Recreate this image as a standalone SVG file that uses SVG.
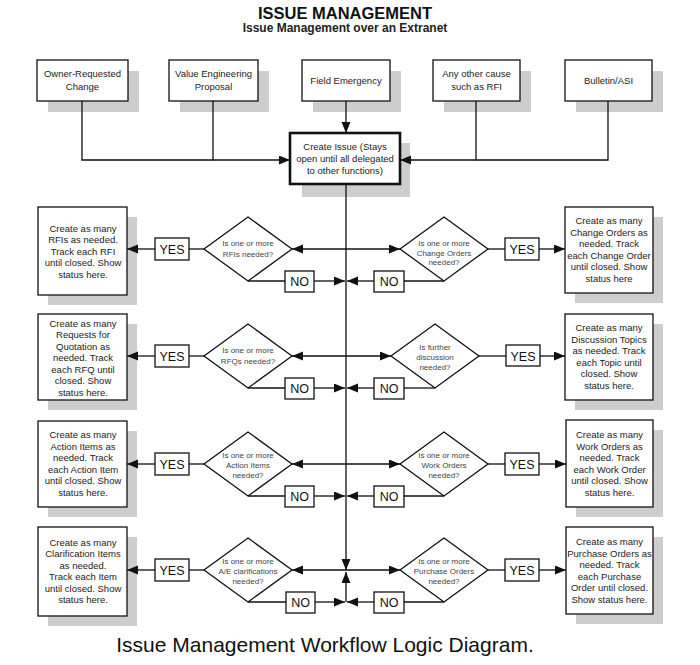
<svg xmlns="http://www.w3.org/2000/svg" width="700" height="665" viewBox="0 0 700 665">
<style>
.bx{fill:#fff;stroke:#111;stroke-width:1.3}
.sh{fill:#cdcdcd}
.ln{fill:none;stroke:#111;stroke-width:1.3}
.ar{fill:none;stroke:#111;stroke-width:1.3;marker-end:url(#ah)}
.t{font-family:"Liberation Sans",Arial,sans-serif;font-size:9.5px;fill:#222;text-anchor:middle}
.d{font-family:"Liberation Sans",Arial,sans-serif;font-size:8px;fill:#444;text-anchor:middle}
.yn{font-family:"Liberation Sans",Arial,sans-serif;font-size:12.5px;fill:#111;text-anchor:middle}
</style>
<defs>
<marker id="ah" markerUnits="userSpaceOnUse" markerWidth="12" markerHeight="10" refX="11" refY="4.5" orient="auto">
<path d="M0,0 L11,4.5 L0,9 z" fill="#111"/>
</marker>
</defs>
<rect width="700" height="665" fill="#fff"/>
<g id="title">
<text x="345" y="19" font-family="'Liberation Sans',Arial,sans-serif" font-size="16.5" font-weight="bold" text-anchor="middle" fill="#111">ISSUE MANAGEMENT</text>
<text x="345" y="32" font-family="'Liberation Sans',Arial,sans-serif" font-size="12" font-weight="bold" text-anchor="middle" fill="#222">Issue Management over an Extranet</text>
</g>

<!-- top boxes -->
<g id="owner">
<rect class="sh" x="48" y="71" width="91" height="41"/>
<rect class="bx" x="37" y="60" width="91" height="41"/>
<text class="t" x="82.5" y="77">Owner-Requested</text>
<text class="t" x="82.5" y="90">Change</text>
</g>
<g id="value">
<rect class="sh" x="180" y="71" width="89" height="41"/>
<rect class="bx" x="169" y="60" width="89" height="41"/>
<text class="t" x="213.5" y="77">Value Engineering</text>
<text class="t" x="213.5" y="90">Proposal</text>
</g>
<g id="field">
<rect class="sh" x="313" y="71" width="88" height="41"/>
<rect class="bx" x="302" y="60" width="88" height="41"/>
<text class="t" x="346" y="84">Field Emergency</text>
</g>
<g id="other">
<rect class="sh" x="444" y="71" width="87" height="41"/>
<rect class="bx" x="433" y="60" width="87" height="41"/>
<text class="t" x="476.5" y="77">Any other cause</text>
<text class="t" x="476.5" y="90">such as RFI</text>
</g>
<g id="bulletin">
<rect class="sh" x="576" y="71" width="87" height="41"/>
<rect class="bx" x="565" y="60" width="87" height="41"/>
<text class="t" x="608.5" y="84">Bulletin/ASI</text>
</g>

<g id="create">
<rect class="sh" x="302" y="143" width="108" height="54"/>
<rect x="290" y="133" width="110" height="51" fill="#fff" stroke="#111" stroke-width="2.6"/>
<text class="t" x="345" y="150">Create Issue (Stays</text>
<text class="t" x="345" y="162">open until all delegated</text>
<text class="t" x="345" y="174">to other functions)</text>
</g>

<!-- row 1 -->
<g id="rfi-box">
<rect class="sh" x="48" y="217" width="89" height="88"/>
<rect class="bx" x="38" y="207" width="89" height="88"/>
<text class="t" x="83" y="231.5">Create as many</text>
<text class="t" x="83" y="243">RFIs as needed.</text>
<text class="t" x="83" y="254.5">Track each RFI</text>
<text class="t" x="83" y="266">until closed. Show</text>
<text class="t" x="83" y="277.5">status here.</text>
</g>
<g id="rfi-q">
<path class="bx" d="M248,217 L292,249 L248,281 L204,249 z"/>
<text class="d" x="248" y="246">Is one or more</text>
<text class="d" x="248" y="257">RFIs needed?</text>
</g>
<g id="rfi-yes"><rect class="bx" x="155" y="238" width="34" height="22"/><text class="yn" x="172" y="254">YES</text></g>
<g id="rfi-no"><rect class="bx" x="285" y="271" width="29" height="21"/><text class="yn" x="299.5" y="286">NO</text></g>

<g id="co-box">
<rect class="sh" x="575" y="217" width="88" height="86"/>
<rect class="bx" x="565" y="207" width="88" height="86"/>
<text class="t" x="609" y="224">Create as many</text>
<text class="t" x="609" y="235.5">Change Orders as</text>
<text class="t" x="609" y="247">needed. Track</text>
<text class="t" x="609" y="258.5">each Change Order</text>
<text class="t" x="609" y="270">until closed. Show</text>
<text class="t" x="609" y="281.5">status here</text>
</g>
<g id="co-q">
<path class="bx" d="M444,217 L488,249 L444,281 L400,249 z"/>
<text class="d" x="444" y="246">Is one or more</text>
<text class="d" x="444" y="256">Change Orders</text>
<text class="d" x="444" y="265">needed?</text>
</g>
<g id="co-yes"><rect class="bx" x="505" y="238" width="34" height="22"/><text class="yn" x="522" y="254">YES</text></g>
<g id="co-no"><rect class="bx" x="374" y="271" width="30" height="21"/><text class="yn" x="389" y="286">NO</text></g>

<!-- row 2 -->
<g id="rfq-box">
<rect class="sh" x="48" y="324" width="89" height="86"/>
<rect class="bx" x="38" y="314" width="89" height="86"/>
<text class="t" x="83" y="326.5">Create as many</text>
<text class="t" x="83" y="338">Requests for</text>
<text class="t" x="83" y="349.5">Quotation as</text>
<text class="t" x="83" y="361">needed. Track</text>
<text class="t" x="83" y="372.5">each RFQ until</text>
<text class="t" x="83" y="384">closed. Show</text>
<text class="t" x="83" y="395.5">status here.</text>
</g>
<g id="rfq-q">
<path class="bx" d="M248,324 L292,356 L248,388 L204,356 z"/>
<text class="d" x="248" y="353">Is one or more</text>
<text class="d" x="248" y="364">RFQs needed?</text>
</g>
<g id="rfq-yes"><rect class="bx" x="155" y="345" width="34" height="22"/><text class="yn" x="172" y="361">YES</text></g>
<g id="rfq-no"><rect class="bx" x="285" y="378" width="29" height="21"/><text class="yn" x="299.5" y="393">NO</text></g>

<g id="disc-box">
<rect class="sh" x="575" y="324" width="88" height="86"/>
<rect class="bx" x="565" y="314" width="88" height="86"/>
<text class="t" x="609" y="331">Create as many</text>
<text class="t" x="609" y="342.5">Discussion Topics</text>
<text class="t" x="609" y="354">as needed. Track</text>
<text class="t" x="609" y="365.5">each Topic until</text>
<text class="t" x="609" y="377">closed. Show</text>
<text class="t" x="609" y="388.5">status here.</text>
</g>
<g id="disc-q">
<path class="bx" d="M435,324 L479,356 L435,388 L391,356 z"/>
<text class="d" x="435" y="350">Is further</text>
<text class="d" x="435" y="360">discussion</text>
<text class="d" x="435" y="370">needed?</text>
</g>
<g id="disc-yes"><rect class="bx" x="506" y="345" width="34" height="21"/><text class="yn" x="523" y="360.5">YES</text></g>
<g id="disc-no"><rect class="bx" x="374" y="378" width="30" height="21"/><text class="yn" x="389" y="393">NO</text></g>

<!-- row 3 -->
<g id="ai-box">
<rect class="sh" x="48" y="431" width="89" height="86"/>
<rect class="bx" x="38" y="421" width="89" height="86"/>
<text class="t" x="83" y="438">Create as many</text>
<text class="t" x="83" y="449.5">Action Items as</text>
<text class="t" x="83" y="461">needed. Track</text>
<text class="t" x="83" y="472.5">each Action Item</text>
<text class="t" x="83" y="484">until closed. Show</text>
<text class="t" x="83" y="495.5">status here.</text>
</g>
<g id="ai-q">
<path class="bx" d="M248,432 L292,464 L248,496 L204,464 z"/>
<text class="d" x="248" y="458">Is one or more</text>
<text class="d" x="248" y="468">Action Items</text>
<text class="d" x="248" y="478">needed?</text>
</g>
<g id="ai-yes"><rect class="bx" x="155" y="453" width="34" height="22"/><text class="yn" x="172" y="469">YES</text></g>
<g id="ai-no"><rect class="bx" x="285" y="486" width="29" height="21"/><text class="yn" x="299.5" y="501">NO</text></g>

<g id="wo-box">
<rect class="sh" x="576" y="430" width="87" height="87"/>
<rect class="bx" x="566" y="420" width="87" height="87"/>
<text class="t" x="609.5" y="438">Create as many</text>
<text class="t" x="609.5" y="449.5">Work Orders as</text>
<text class="t" x="609.5" y="461">needed. Track</text>
<text class="t" x="609.5" y="472.5">each Work Order</text>
<text class="t" x="609.5" y="484">until closed. Show</text>
<text class="t" x="609.5" y="495.5">status here.</text>
</g>
<g id="wo-q">
<path class="bx" d="M444,432 L488,464 L444,496 L400,464 z"/>
<text class="d" x="444" y="458">Is one or more</text>
<text class="d" x="444" y="468">Work Orders</text>
<text class="d" x="444" y="478">needed?</text>
</g>
<g id="wo-yes"><rect class="bx" x="505" y="453" width="34" height="22"/><text class="yn" x="522" y="469">YES</text></g>
<g id="wo-no"><rect class="bx" x="374" y="486" width="30" height="21"/><text class="yn" x="389" y="501">NO</text></g>

<!-- row 4 -->
<g id="ae-box">
<rect class="sh" x="48" y="537" width="89" height="89"/>
<rect class="bx" x="38" y="527" width="89" height="89"/>
<text class="t" x="83" y="545.5">Create as many</text>
<text class="t" x="83" y="557">Clarification  Items</text>
<text class="t" x="83" y="568.5">as needed.</text>
<text class="t" x="83" y="580">Track each Item</text>
<text class="t" x="83" y="591.5">until closed. Show</text>
<text class="t" x="83" y="603">status here.</text>
</g>
<g id="ae-q">
<path class="bx" d="M248,538 L292,570 L248,602 L204,570 z"/>
<text class="d" x="248" y="564">Is one or more</text>
<text class="d" x="248" y="574">A/E clarifications</text>
<text class="d" x="248" y="584">needed?</text>
</g>
<g id="ae-yes"><rect class="bx" x="155" y="559" width="34" height="22"/><text class="yn" x="172" y="575">YES</text></g>
<g id="ae-no"><rect class="bx" x="286" y="592" width="29" height="21"/><text class="yn" x="300.5" y="607">NO</text></g>

<g id="po-box">
<rect class="sh" x="576" y="537" width="87" height="87"/>
<rect class="bx" x="566" y="527" width="87" height="87"/>
<text class="t" x="609.5" y="545">Create as many</text>
<text class="t" x="609.5" y="556.5">Purchase Orders as</text>
<text class="t" x="609.5" y="568">needed. Track</text>
<text class="t" x="609.5" y="579.5">each Purchase</text>
<text class="t" x="609.5" y="591">Order until closed.</text>
<text class="t" x="609.5" y="602.5">Show status here.</text>
</g>
<g id="po-q">
<path class="bx" d="M444,538 L488,570 L444,602 L400,570 z"/>
<text class="d" x="444" y="564">Is one or more</text>
<text class="d" x="444" y="574">Purchase Orders</text>
<text class="d" x="444" y="584">needed?</text>
</g>
<g id="po-yes"><rect class="bx" x="505" y="559" width="34" height="22"/><text class="yn" x="522" y="575">YES</text></g>
<g id="po-no"><rect class="bx" x="374" y="592" width="30" height="21"/><text class="yn" x="389" y="607">NO</text></g>

<g id="connectors">
<!-- top -->
<path class="ln" d="M82,101 V160 H213 M213,101 V160"/>
<path class="ar" d="M213,160 H290"/>
<path class="ar" d="M346,101 V133"/>
<path class="ln" d="M608,101 V160 H476 M476,101 V160"/>
<path class="ar" d="M476,160 H400"/>
<!-- spine -->
<path class="ar" d="M346,185 V570"/>
<path class="ar" d="M346,602 V572"/>
<!-- row 1 -->
<path class="ar" d="M346,249 H292"/>
<path class="ar" d="M346,249 H400"/>
<path class="ln" d="M204,249 H189"/><path class="ar" d="M155,249 H127"/>
<path class="ln" d="M488,249 H505"/><path class="ar" d="M539,249 H565"/>
<path class="ln" d="M248,281 H285"/><path class="ar" d="M314,281 H345"/>
<path class="ln" d="M444,281 H404"/><path class="ar" d="M374,281 H347"/>
<!-- row 2 -->
<path class="ar" d="M346,356 H292"/>
<path class="ar" d="M346,356 H391"/>
<path class="ln" d="M204,356 H189"/><path class="ar" d="M155,356 H127"/>
<path class="ln" d="M479,356 H506"/><path class="ar" d="M540,356 H565"/>
<path class="ln" d="M248,388 H285"/><path class="ar" d="M314,388 H345"/>
<path class="ln" d="M435,388 H404"/><path class="ar" d="M374,388 H347"/>
<!-- row 3 -->
<path class="ar" d="M346,464 H292"/>
<path class="ar" d="M346,464 H400"/>
<path class="ln" d="M204,464 H189"/><path class="ar" d="M155,464 H127"/>
<path class="ln" d="M488,464 H505"/><path class="ar" d="M539,464 H566"/>
<path class="ln" d="M248,496 H285"/><path class="ar" d="M314,496 H345"/>
<path class="ln" d="M444,496 H404"/><path class="ar" d="M374,496 H347"/>
<!-- row 4 -->
<path class="ar" d="M346,570 H292"/>
<path class="ar" d="M346,570 H400"/>
<path class="ln" d="M204,570 H189"/><path class="ar" d="M155,570 H127"/>
<path class="ln" d="M488,570 H505"/><path class="ar" d="M539,570 H566"/>
<path class="ln" d="M248,602 H286"/><path class="ar" d="M315,602 H345"/>
<path class="ln" d="M444,602 H404"/><path class="ar" d="M374,602 H347"/>
</g>

<text x="325" y="652" font-family="'Liberation Sans',Arial,sans-serif" font-size="21" text-anchor="middle" fill="#111">Issue Management Workflow Logic Diagram.</text>
</svg>
